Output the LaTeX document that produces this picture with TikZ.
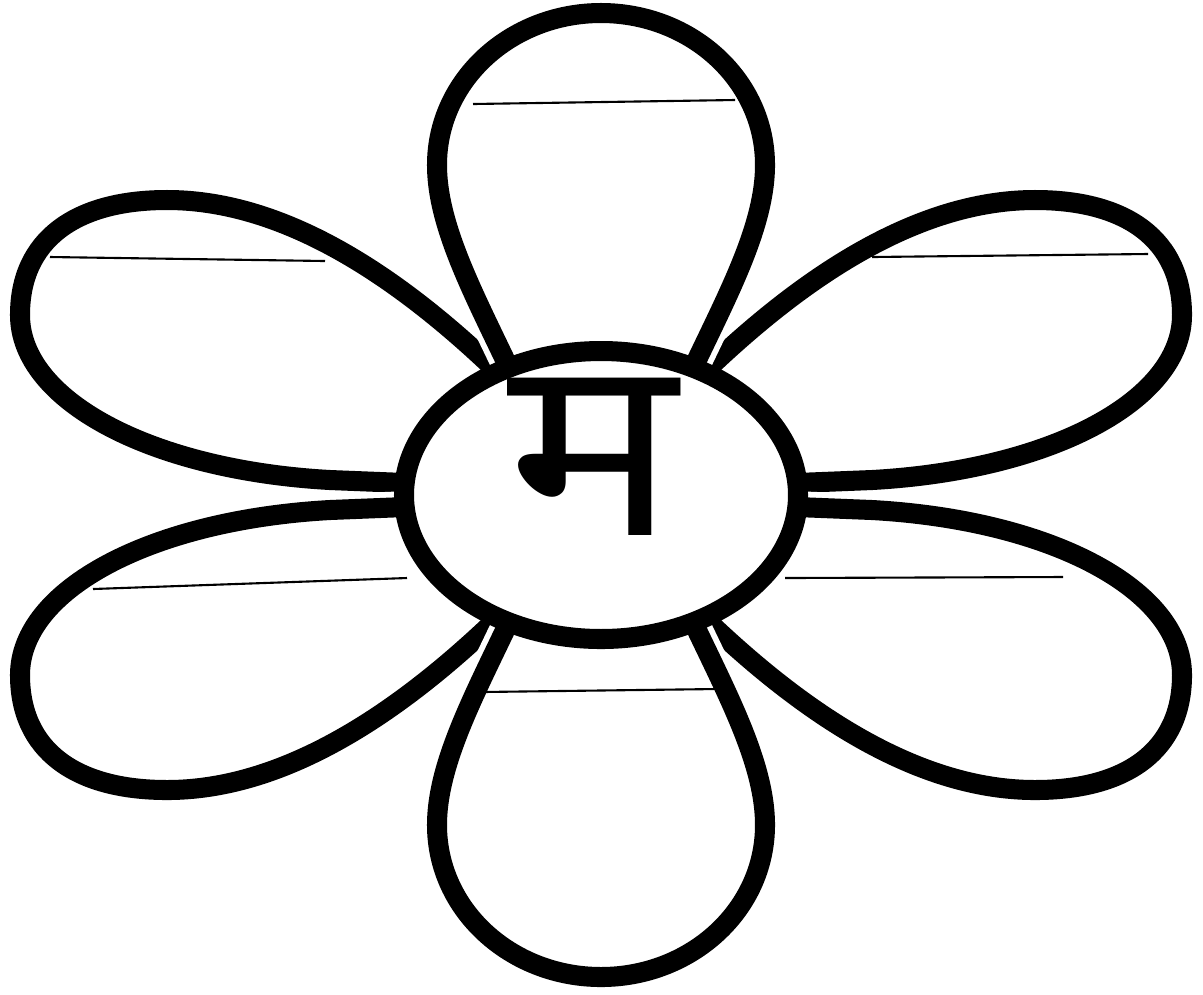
\documentclass[tikz,border=0pt]{standalone}
\usepackage{fontspec}
\newfontfamily\devfont[Script=Devanagari]{Noto Sans}
\usetikzlibrary{shapes.geometric}

\begin{document}
\begin{tikzpicture}[
  x=0.1mm, y=-0.1mm,
  petal/.style={draw=black, line width=5.7pt, line join=round, preaction={draw=white, line width=9pt}},
  hub/.style={draw=black, fill=white, ellipse, line width=5.7pt, minimum width=39.4mm, minimum height=28.8mm, inner sep=0pt},
  rule/.style={draw=black, line width=0.6pt}
]
\useasboundingbox (0,0) rectangle (1203,994);
\begin{scope}[shift={(601,495)}]
  % side petals, one outline mirrored four ways
  \foreach \sx/\sy in {1/1,-1/1,1/-1,-1/-1}{
    \draw[petal, xscale=\sx, yscale=\sy] (-85,-105) .. controls (-175,-195) and (-300,-295) .. (-434,-295)
      .. controls (-526,-295) and (-581,-255) .. (-581,-180)
      .. controls (-581,-95) and (-451,-25) .. (-271,-15) -- (-171,-11);
  }
  % top and bottom petals
  \foreach \sy in {1,-1}{
    \draw[petal, yscale=\sy] (-75,-90) .. controls (-115,-180) and (-164,-260) .. (-164,-330)
      .. controls (-164,-415) and (-90,-482) .. (0,-482)
      .. controls (90,-482) and (164,-415) .. (164,-330)
      .. controls (164,-260) and (115,-180) .. (75,-90);
  }
\end{scope}

% centre
\node[hub] (hub) at (601,495) {};
\node[font=\devfont\bfseries\fontsize{72}{72}\selectfont, inner sep=0pt, xscale=1.12] (ma) at (592,457) {म};

% writing lines
\draw[rule] (473,104) -- (735,100);
\draw[rule] (50,257) -- (325,261);
\draw[rule] (872,257) -- (1148,254);
\draw[rule] (93,589) -- (407,578);
\draw[rule] (785,578) -- (1063,577);
\draw[rule] (482,692) -- (717,689);
\end{tikzpicture}
\end{document}
